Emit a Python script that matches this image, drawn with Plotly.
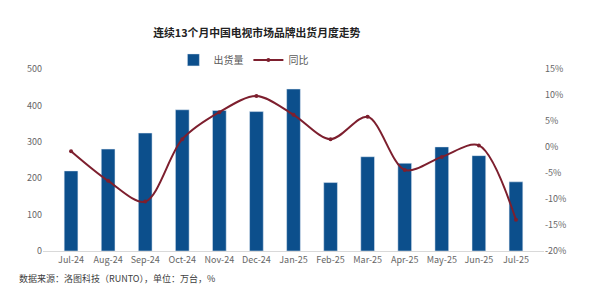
import plotly.graph_objects as go

months = ["Jul-24", "Aug-24", "Sep-24", "Oct-24", "Nov-24", "Dec-24", "Jan-25",
          "Feb-25", "Mar-25", "Apr-25", "May-25", "Jun-25", "Jul-25"]
shipments = [220, 280, 324, 388, 386, 383, 445, 188, 259, 241, 286, 262, 190]
yoy = [-0.8, -6.5, -10.5, 1.5, 6.7, 9.8, 6.2, 1.5, 5.8, -4.4, -1.9, 0.3, -14.0]

left_ticks = [0, 100, 200, 300, 400, 500]
right_ticks = [-20, -15, -10, -5, 0, 5, 10, 15]
right_labels = [f"{v}%" for v in right_ticks]

FONT = "Noto Sans CJK SC"
BAR = "#0c4f8c"
LINE = "#7d1f2e"

fig = go.Figure()
fig.add_trace(go.Bar(x=months, y=shipments, name="出货量", marker_color=BAR,
                     width=0.37, yaxis="y"))
fig.add_trace(go.Scatter(x=months, y=yoy, name="同比", yaxis="y2",
                         mode="lines+markers",
                         line=dict(color=LINE, width=2, shape="spline", smoothing=0.9),
                         marker=dict(color=LINE, size=4)))

fig.update_layout(
    width=600, height=294,
    margin=dict(l=43, r=56, t=69, b=43),
    paper_bgcolor="white", plot_bgcolor="white",
    font=dict(family=FONT, size=9, color="#666666"),
    title=dict(text="<b>连续13个月中国电视市场品牌出货月度走势</b>",
               x=0.428, xanchor="center", y=1 - 33 / 294, yanchor="middle",
               font=dict(size=10.8, color="#222222", family=FONT)),
    showlegend=True,
    legend=dict(orientation="h", x=0.40, xanchor="center", y=1.05, yanchor="middle",
                font=dict(size=10, color="#595959"), bgcolor="rgba(0,0,0,0)",
                itemwidth=30, tracegroupgap=0),
    bargap=0.6,
    xaxis=dict(type="category", showgrid=False, showline=True, linecolor="#d9d9d9",
               ticks="", tickfont=dict(size=9, color="#666666")),
    yaxis=dict(range=[0, 500], tickvals=left_ticks, showgrid=False, zeroline=False,
               showline=False, ticks="", tickfont=dict(size=9, color="#666666")),
    yaxis2=dict(range=[-20, 15], overlaying="y", side="right", tickvals=right_ticks,
                ticktext=right_labels, showgrid=False, zeroline=False, showline=False,
                ticks="", tickfont=dict(size=9, color="#666666")),
    annotations=[dict(text="数据来源：洛图科技（RUNTO），单位：万台，%",
                      xref="paper", yref="paper", x=-43 / 501, y=-(278 - 251) / 182,
                      xanchor="left", yanchor="middle", showarrow=False,
                      xshift=17, font=dict(size=9, color="#404040", family=FONT))],
)

fig.write_html("out.html")
